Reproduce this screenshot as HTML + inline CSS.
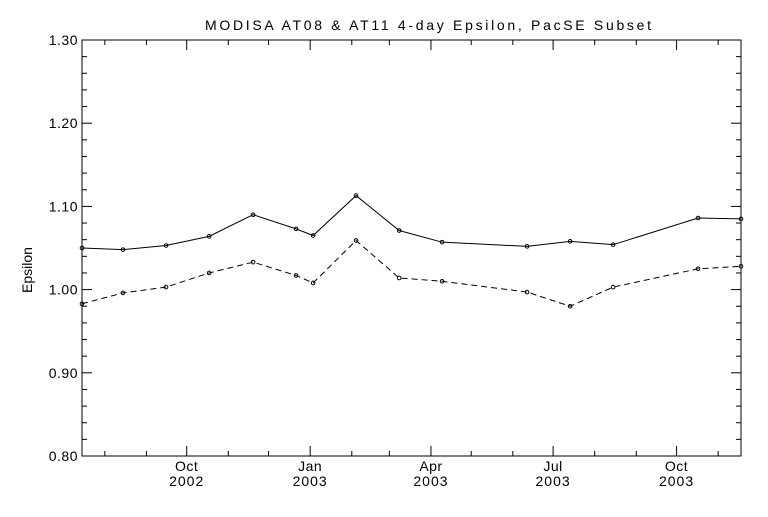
<!DOCTYPE html>
<html><head><meta charset="utf-8"><style>
body{margin:0;background:#fff}
svg text{font-family:"Liberation Sans",sans-serif;font-size:14px;fill:#000}
</style></head><body>
<svg id="chart" width="768" height="512" xmlns="http://www.w3.org/2000/svg">
<rect width="768" height="512" fill="#fff"/>
<text x="205" y="30" textLength="446" lengthAdjust="spacing" font-size="16">MODISA AT08 &amp; AT11 4-day Epsilon, PacSE Subset</text>
<text transform="translate(32,270) rotate(-90)" text-anchor="middle" font-size="13">Epsilon</text>
<g id="g"></g>
</svg>
<script>
// days since 2002-07-15
const days=[0,30.5,62.6,94.7,127.5,159.5,172.2,204.2,236.3,268.3,331.6,363.7,395.7,459,491];
const at08=[1.050,1.048,1.053,1.064,1.090,1.073,1.065,1.113,1.071,1.057,1.052,1.058,1.054,1.086,1.085];
const at11=[0.983,0.996,1.003,1.020,1.033,1.017,1.008,1.059,1.014,1.010,0.997,0.980,1.003,1.025,1.028];
const yTicks=[0.80,0.90,1.00,1.10,1.20,1.30];
const yTickLabels=["0.80","0.90","1.00","1.10","1.20","1.30"];
const xTickDays=[78,170,260,351,443];
const xTickLabels=[["Oct","2002"],["Jan","2003"],["Apr","2003"],["Jul","2003"],["Oct","2003"]];
const monthDays=[17,48,78,109,139,170,201,229,260,290,321,351,382,413,443,474];

const L=82,R=741,T=40,B=456,D0=0,D1=491,Y0=0.8,Y1=1.3;
const X=d=>L+(d-D0)/(D1-D0)*(R-L);
const Y=v=>B-(v-Y0)/(Y1-Y0)*(B-T);
const NS="http://www.w3.org/2000/svg";
const g=document.getElementById('g');
function mk(t,a){const e=document.createElementNS(NS,t);for(const k in a)e.setAttribute(k,a[k]);g.appendChild(e);return e;}
let e=mk('rect',{x:L,y:T,width:R-L,height:B-T,fill:'none',stroke:'#000','stroke-width':1});


yTicks.forEach((v,i)=>{
  mk('line',{x1:L,x2:L+10,y1:Y(v),y2:Y(v),stroke:'#000'});
  mk('line',{x1:R,x2:R-10,y1:Y(v),y2:Y(v),stroke:'#000'});
  if(i<yTicks.length-1)for(let j=1;j<5;j++){const yy=Y(v+j*0.02);
    mk('line',{x1:L,x2:L+5,y1:yy,y2:yy,stroke:'#000'});
    mk('line',{x1:R,x2:R-5,y1:yy,y2:yy,stroke:'#000'});}
  const t=mk('text',{x:L-4,y:Y(v)+5,'text-anchor':'end','letter-spacing':'0.5'});t.textContent=yTickLabels[i];
  
  
});
monthDays.forEach(d=>{if(xTickDays.includes(d))return;
  mk('line',{x1:X(d),x2:X(d),y1:B,y2:B-5,stroke:'#000'});
  mk('line',{x1:X(d),x2:X(d),y1:T,y2:T+5,stroke:'#000'});});
xTickDays.forEach((d,i)=>{
  mk('line',{x1:X(d),x2:X(d),y1:B,y2:B-10,stroke:'#000'});
  mk('line',{x1:X(d),x2:X(d),y1:T,y2:T+10,stroke:'#000'});
  const a=mk('text',{x:X(d),y:B+15,'text-anchor':'middle','letter-spacing':'0.5'});a.textContent=xTickLabels[i][0];
  
  
  const b=mk('text',{x:X(d),y:B+30,'text-anchor':'middle','font-size':'15','letter-spacing':'1'});b.textContent=xTickLabels[i][1];
  
  
});
function series(vals,name,dash){
  const p=mk('polyline',{points:days.map((d,i)=>X(d)+','+Y(vals[i])).join(' '),fill:'none',stroke:'#000','stroke-width':1,'stroke-dasharray':dash});
  
  
  days.forEach((d,i)=>{const c=mk('circle',{cx:X(d),cy:Y(vals[i]),r:1.8,fill:'none',stroke:'#000','stroke-width':1});
    
    });
}
series(at08,'at08','none');
series(at11,'at11','6,4');
</script>
</body></html>
